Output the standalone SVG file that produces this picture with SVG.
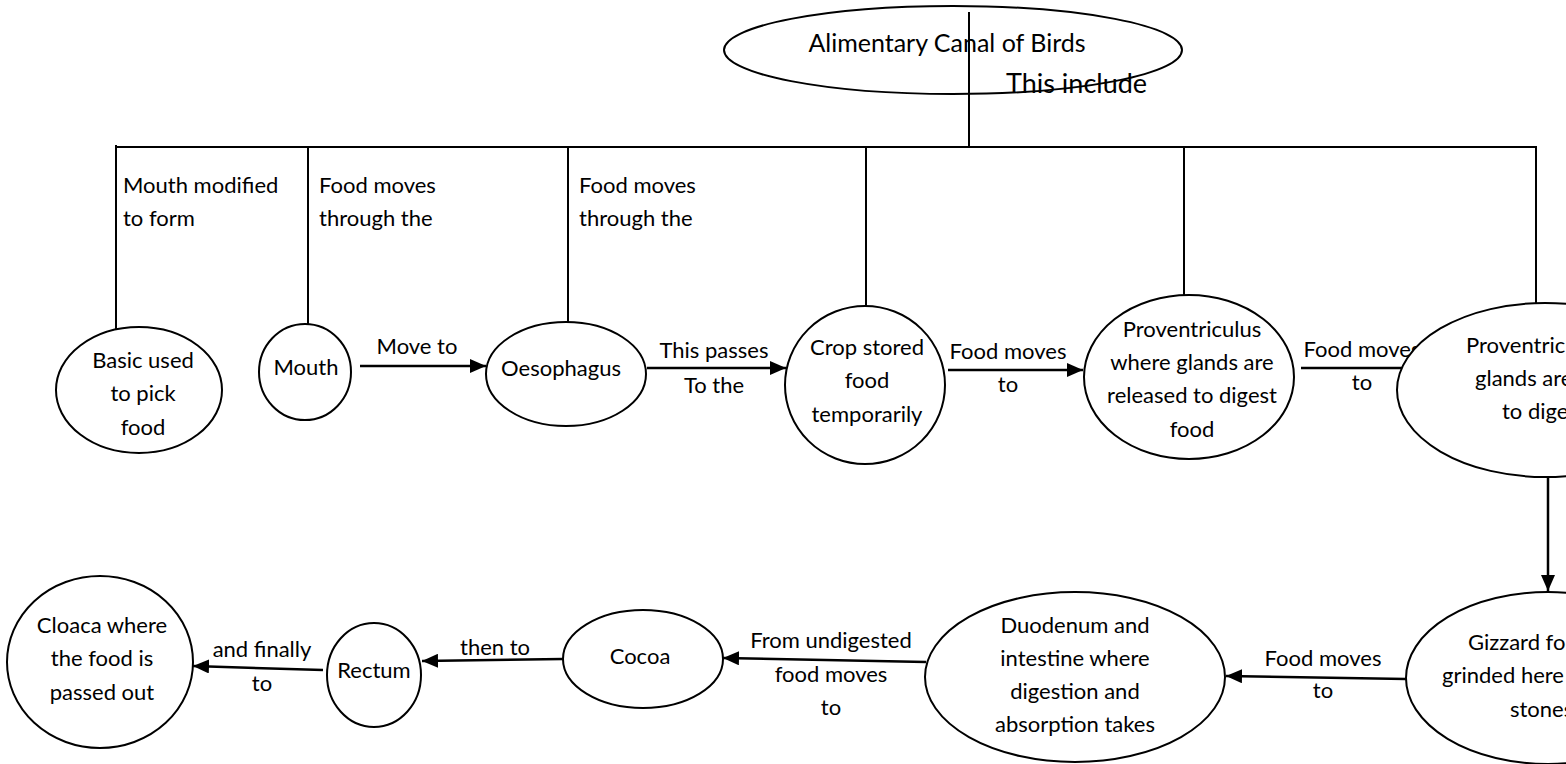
<svg xmlns="http://www.w3.org/2000/svg" width="1566" height="764" viewBox="0 0 1566 764">
  <style>
    .shape { fill: #ffffff; stroke: #000000; stroke-width: 2; }
    .wire { fill: none; stroke: #000000; stroke-width: 2; }
    .flow { fill: none; stroke: #000000; stroke-width: 2.5; marker-end: url(#head); }
    text { font-family: Lato, "Open Sans", "Liberation Sans", sans-serif; font-size: 22px; fill: #000000; }
    .mid { text-anchor: middle; }
    .title { font-size: 25px; }
    .big { font-size: 27px; }
  </style>
  <defs>
    <marker id="head" markerUnits="userSpaceOnUse" markerWidth="16" markerHeight="14" refX="16" refY="7" orient="auto">
      <path d="M0,0 L16,7 L0,14 z" fill="#000000"/>
    </marker>
  </defs>
  <rect width="1566" height="764" fill="#ffffff"/>

  <!-- root node -->
  <g id="root">
    <ellipse class="shape" cx="953" cy="50" rx="229" ry="44"/>
    <text class="title mid" x="947" y="52">Alimentary Canal of Birds</text>
  </g>

  <!-- tree lines and flow arrows -->
  <g id="connectors">
    <line class="wire" x1="969" y1="12" x2="969" y2="147"/>
    <line class="wire" x1="116" y1="147" x2="1537" y2="147"/>
    <line class="wire" x1="116" y1="145" x2="116" y2="329"/>
    <line class="wire" x1="308" y1="147" x2="308" y2="324"/>
    <line class="wire" x1="568" y1="147" x2="568" y2="322"/>
    <line class="wire" x1="866" y1="147" x2="866" y2="306"/>
    <line class="wire" x1="1184" y1="147" x2="1184" y2="295"/>
    <line class="wire" x1="1536" y1="147" x2="1536" y2="303"/>

    <line class="flow" x1="360" y1="366" x2="486" y2="366"/>
    <line class="flow" x1="647" y1="368" x2="786" y2="368"/>
    <line class="flow" x1="948" y1="370" x2="1083" y2="370"/>
    <line class="flow" x1="1301" y1="368" x2="1433" y2="368"/>
    <line class="flow" x1="1548" y1="463" x2="1548" y2="591"/>
    <line class="flow" x1="1406" y1="679" x2="1226" y2="676"/>
    <line class="flow" x1="926" y1="662" x2="723" y2="658"/>
    <line class="flow" x1="563" y1="659" x2="422" y2="661"/>
    <line class="flow" x1="323" y1="670" x2="193" y2="666"/>
  </g>

  <!-- labels on the tree and arrows -->
  <g id="labels">
    <text class="big" x="1006" y="93">This include</text>
    <text x="123" y="193">Mouth modified</text>
    <text x="123" y="226">to form</text>
    <text x="319" y="193">Food moves</text>
    <text x="319" y="226">through the</text>
    <text x="579" y="193">Food moves</text>
    <text x="579" y="226">through the</text>
    <text class="mid" x="417" y="354">Move to</text>
    <text class="mid" x="714" y="358">This passes</text>
    <text class="mid" x="714" y="393">To the</text>
    <text class="mid" x="1008" y="359">Food moves</text>
    <text class="mid" x="1008" y="392">to</text>
    <text class="mid" x="1362" y="357">Food moves</text>
    <text class="mid" x="1362" y="390">to</text>
    <text class="mid" x="1323" y="666">Food moves</text>
    <text class="mid" x="1323" y="698">to</text>
    <text class="mid" x="831" y="648">From undigested</text>
    <text class="mid" x="831" y="682">food moves</text>
    <text class="mid" x="831" y="715">to</text>
    <text class="mid" x="495" y="655">then to</text>
    <text class="mid" x="262" y="657">and finally</text>
    <text class="mid" x="262" y="691">to</text>
  </g>

  <g id="basic">
    <ellipse class="shape" cx="139" cy="390" rx="83" ry="63"/>
    <text class="mid" x="143" y="368">Basic used</text>
    <text class="mid" x="143" y="401">to pick</text>
    <text class="mid" x="143" y="435">food</text>
  </g>

  <g id="mouth">
    <ellipse class="shape" cx="305" cy="372" rx="46" ry="48"/>
    <text class="mid" x="306" y="375">Mouth</text>
  </g>

  <g id="oesophagus">
    <ellipse class="shape" cx="566" cy="374" rx="80" ry="52"/>
    <text class="mid" x="561" y="376">Oesophagus</text>
  </g>

  <g id="crop">
    <ellipse class="shape" cx="865" cy="385" rx="80" ry="79"/>
    <text class="mid" x="867" y="355">Crop stored</text>
    <text class="mid" x="867" y="388">food</text>
    <text class="mid" x="867" y="422">temporarily</text>
  </g>

  <g id="proventriculus-1">
    <ellipse class="shape" cx="1189" cy="377" rx="105" ry="82"/>
    <text class="mid" x="1192" y="337">Proventriculus</text>
    <text class="mid" x="1192" y="370">where glands are</text>
    <text class="mid" x="1192" y="403">released to digest</text>
    <text class="mid" x="1192" y="437">food</text>
  </g>

  <g id="proventriculus-2">
    <ellipse class="shape" cx="1545" cy="390" rx="148" ry="87"/>
    <text x="1466" y="353">Proventriculus where</text>
    <text x="1475" y="386">glands are released</text>
    <text x="1502" y="419">to digest food</text>
  </g>

  <g id="gizzard">
    <ellipse class="shape" cx="1548" cy="678" rx="142" ry="86"/>
    <text x="1468" y="650">Gizzard food is</text>
    <text x="1442" y="683">grinded here with the</text>
    <text x="1510" y="717">stones</text>
  </g>

  <g id="duodenum">
    <ellipse class="shape" cx="1075" cy="677" rx="150" ry="85"/>
    <text class="mid" x="1075" y="633">Duodenum and</text>
    <text class="mid" x="1075" y="666">intestine where</text>
    <text class="mid" x="1075" y="699">digestion and</text>
    <text class="mid" x="1075" y="732">absorption takes</text>
  </g>

  <g id="cocoa">
    <ellipse class="shape" cx="643" cy="659" rx="80" ry="49"/>
    <text class="mid" x="640" y="664">Cocoa</text>
  </g>

  <g id="rectum">
    <ellipse class="shape" cx="374" cy="675" rx="47" ry="52"/>
    <text class="mid" x="374" y="678">Rectum</text>
  </g>

  <g id="cloaca">
    <ellipse class="shape" cx="100" cy="662" rx="93" ry="86"/>
    <text class="mid" x="102" y="633">Cloaca where</text>
    <text class="mid" x="102" y="666">the food is</text>
    <text class="mid" x="102" y="700">passed out</text>
  </g>
</svg>
